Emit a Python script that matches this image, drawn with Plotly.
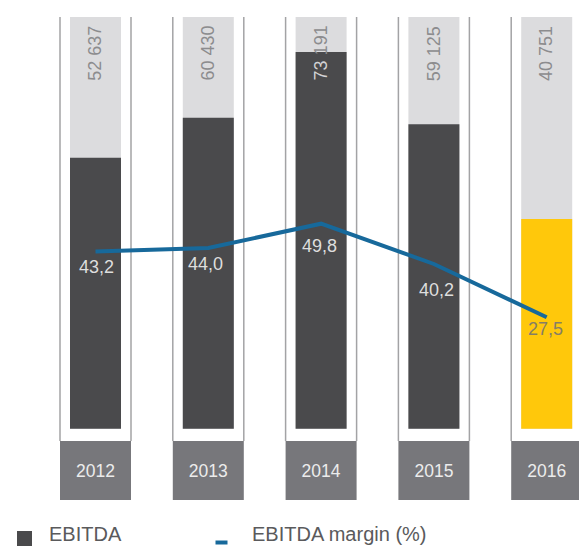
import plotly.graph_objects as go

# ---- data ----
years = ["2012", "2013", "2014", "2015", "2016"]
ebitda = [52637, 60430, 73191, 59125, 40751]
ebitda_labels = ["52 637", "60 430", "73 191", "59 125", "40 751"]
margin = [43.2, 44.0, 49.8, 40.2, 27.5]
margin_labels = ["43,2", "44,0", "49,8", "40,2", "27,5"]
scale_max = 80000

# ---- styling ----
W, H = 579, 547
FONT = "Liberation Sans, Arial, Helvetica, sans-serif"
DARK = "#4a4a4c"
LIGHT = "#dcdcde"
YELLOW = "#ffc80b"
BOX = "#77777b"
BLUE = "#17699b"
FRAME = "#a3a3a5"

# pixel geometry helpers (plot area == whole figure)
x0_px, dx_px = 95.5, 112.8          # centre of first column, spacing
y0_px, ytop_px = 428.7, 16.9        # bar base and top of scale
u_per_px = scale_max / (y0_px - ytop_px)
m0_px, m_slope = 432.7, 4.197       # margin axis: pixel of 0, px per unit

xr = [-x0_px / dx_px, (W - x0_px) / dx_px]
yr = [-(H - y0_px) * u_per_px, scale_max + ytop_px * u_per_px]
y2r = [-(H - m0_px) / m_slope, m0_px / m_slope]

def px_to_y(p):
    return (y0_px - p) * u_per_px

xs = list(range(len(years)))
bar_w = 51 / dx_px
box_w = 71 / dx_px
box_top, box_bot = px_to_y(441), px_to_y(500)

fig = go.Figure()

# background (full-scale) bars
fig.add_trace(go.Bar(x=xs, y=[scale_max] * len(xs), width=bar_w,
                     marker=dict(color=LIGHT, line=dict(width=0)),
                     hoverinfo="skip", showlegend=False))
# EBITDA bars
fig.add_trace(go.Bar(x=xs, y=ebitda, width=bar_w, name="EBITDA",
                     marker=dict(color=[DARK] * 4 + [YELLOW], line=dict(width=0)),
                     showlegend=False))
# year boxes
fig.add_trace(go.Bar(x=xs, y=[box_top - box_bot] * len(xs), base=box_bot,
                     width=box_w, text=years, textposition="inside",
                     insidetextanchor="middle", textangle=0,
                     textfont=dict(family=FONT, size=17.5, color="#ececec"),
                     marker=dict(color=BOX, line=dict(width=0)),
                     hoverinfo="skip", showlegend=False))
# EBITDA margin line
fig.add_trace(go.Scatter(x=xs, y=margin, yaxis="y2", mode="lines",
                         name="EBITDA margin (%)",
                         line=dict(color=BLUE, width=4), showlegend=False))

# frame outlines
shapes = []
for i in xs:
    for side in (-1, 1):
        shapes.append(dict(type="line", xref="x", yref="y",
                           x0=i + side * box_w / 2, x1=i + side * box_w / 2,
                           y0=scale_max, y1=box_top, layer="below",
                           line=dict(color=FRAME, width=1.5)))

# legend markers (paper coords)
def px_x(p):
    return p / W

def px_y(p):
    return 1 - p / H

shapes.append(dict(type="rect", xref="paper", yref="paper",
                   x0=px_x(17), x1=px_x(32), y0=px_y(546), y1=px_y(531),
                   fillcolor=DARK, line=dict(width=0)))
shapes.append(dict(type="line", xref="paper", yref="paper",
                   x0=px_x(215.5), x1=px_x(227.5), y0=px_y(542.5), y1=px_y(542.5),
                   line=dict(color=BLUE, width=4)))

annotations = []
# EBITDA value labels (rotated, near top); the part lying over a dark bar is lighter
label_bottom_y = px_to_y(81)
for i, v, lab in zip(xs, ebitda, ebitda_labels):
    if v > label_bottom_y:
        first, rest = lab.split(" ", 1)
        lab = f'<span style="color:#d2d2d4">{first}</span> {rest}'
    annotations.append(dict(x=i, y=scale_max, xref="x", yref="y", text=lab,
                            textangle=-90, showarrow=False,
                            xanchor="center", yanchor="middle",
                            yshift=-(53.3 - ytop_px),
                            font=dict(family=FONT, size=18, color="#8c8c8e")))
# margin labels below the line
lab_dy = [16, 16, 22, 26, 12]
lab_dx = [1, -3, -2, 3, -1]
lab_col = ["#dedede"] * 4 + ["#857e66"]
for i, v, lab, dy, ddx, c in zip(xs, margin, margin_labels, lab_dy, lab_dx, lab_col):
    annotations.append(dict(x=i, y=v, xref="x", yref="y2", text=lab,
                            showarrow=False, xanchor="center", yanchor="middle",
                            yshift=-dy, xshift=ddx,
                            font=dict(family=FONT, size=18, color=c)))
# legend texts
annotations.append(dict(x=px_x(47), y=px_y(534), xref="paper", yref="paper",
                        text="EBITDA", showarrow=False, xanchor="left",
                        yanchor="middle", font=dict(family=FONT, size=20, color="#5a5a5c")))
annotations.append(dict(x=px_x(250), y=px_y(534), xref="paper", yref="paper",
                        text="EBITDA margin (%)", showarrow=False, xanchor="left",
                        yanchor="middle", font=dict(family=FONT, size=20, color="#5a5a5c")))

fig.update_layout(
    width=W, height=H,
    margin=dict(l=0, r=0, t=0, b=0, pad=0),
    paper_bgcolor="white", plot_bgcolor="white",
    barmode="overlay",
    xaxis=dict(range=xr, visible=False, fixedrange=True),
    yaxis=dict(range=yr, visible=False, fixedrange=True),
    yaxis2=dict(range=y2r, visible=False, overlaying="y", fixedrange=True),
    shapes=shapes, annotations=annotations,
    showlegend=False,
    font=dict(family=FONT),
)

fig.write_html("out.html")
